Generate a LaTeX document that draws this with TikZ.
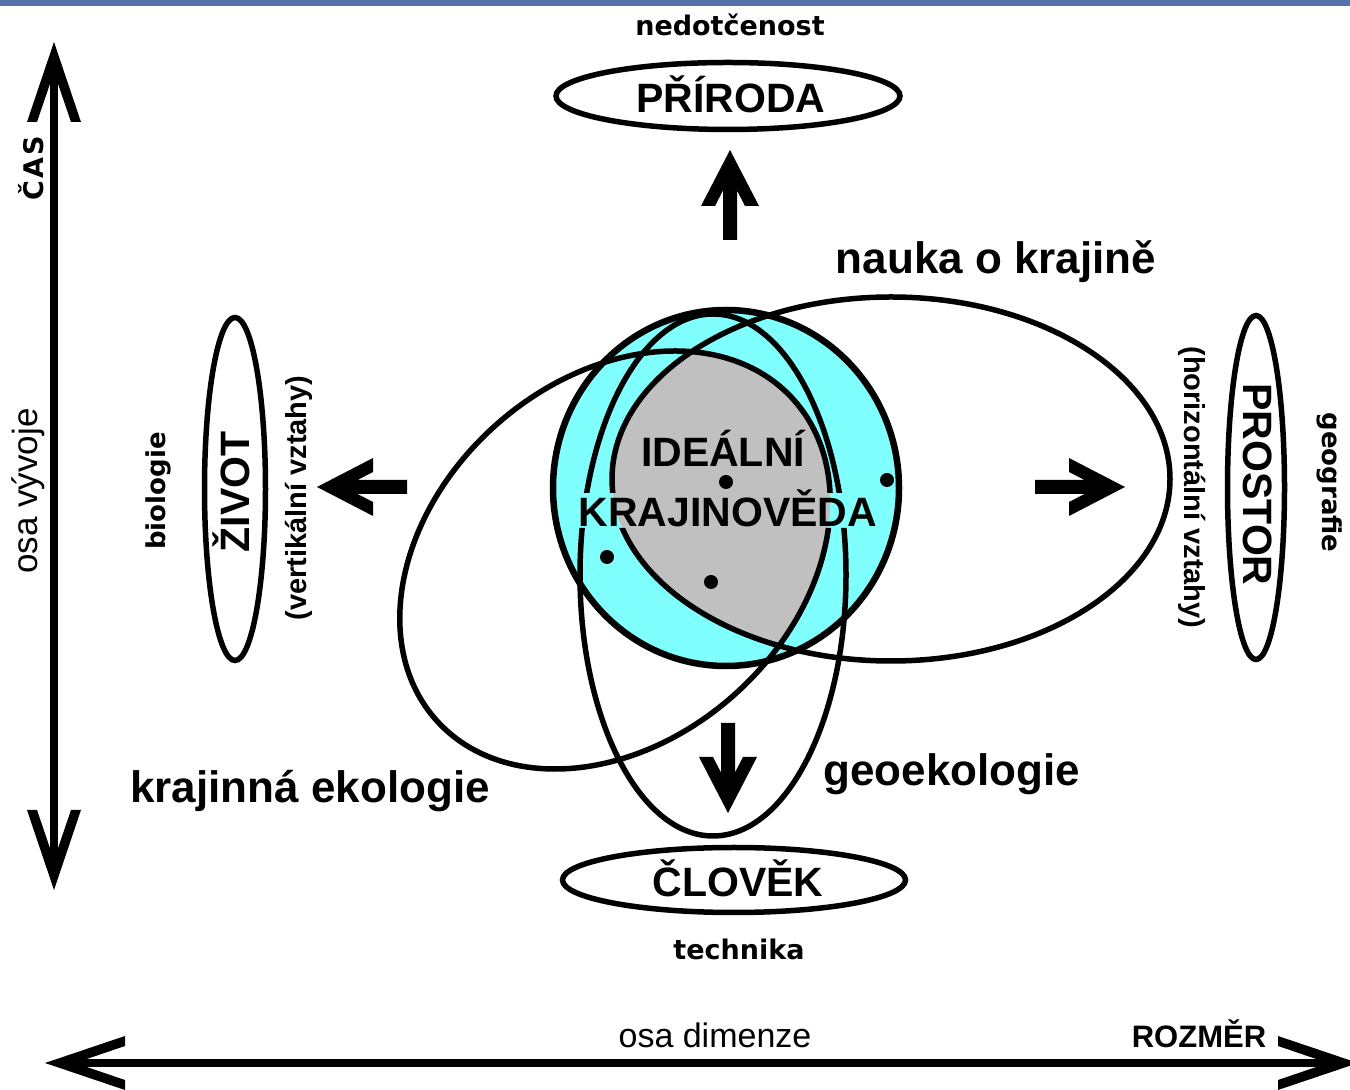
\documentclass[tikz,border=0pt]{standalone}
\usepackage{fontspec}
\setmainfont{Liberation Sans}
\newfontfamily\verd{DejaVu Sans}
\newfontfamily\verdsp[LetterSpace=8]{DejaVu Sans}
\usetikzlibrary{shapes.geometric}
\definecolor{barblue}{RGB}{84,116,168}
\definecolor{cyanfill}{RGB}{128,255,255}
\definecolor{grayfill}{RGB}{192,192,192}
\tikzset{
  oval/.style={draw, line width=5.5pt, ellipse, inner sep=0pt, outer sep=0pt},
  bigtxt/.style={font=\bfseries\fontsize{41}{41}\selectfont, inner sep=0pt, anchor=base},
  midtxt/.style={font=\bfseries\fontsize{44}{44}\selectfont, inner sep=0pt, anchor=base},
  smalltxt/.style={inner sep=0pt, anchor=base},
  setline/.style={line width=5.5pt},
  ringline/.style={line width=6.5pt},
  axisline/.style={line width=8pt},
  dotmark/.style={circle, fill, inner sep=0pt, minimum size=14pt},
  fatarrow/.pic={\fill (0,0) -- (-56,29) -- (-56,15) -- (-40.5,7) -- (-90,7) -- (-90,-7) -- (-40.5,-7) -- (-56,-15) -- (-56,-29) -- cycle;},
  axhead/.pic={\fill (0,0) -- (-80,27) -- (-80,17) -- (-30,0) -- (-80,-17) -- (-80,-27) -- cycle;}
}
\begin{document}
\begin{tikzpicture}[x=1pt,y=1pt]
\useasboundingbox (0,0) rectangle (1350,1090);
\fill[white] (0,0) rectangle (1350,1090);
\fill[barblue] (0,1084) rectangle (1350,1090);

% centres
\coordinate (cc) at (726,602);
\coordinate (nc) at (891,611);
\coordinate (kc) at (615,530);
\coordinate (gc) at (713,515);

% fills
\fill[cyanfill] (cc) ellipse [x radius=173, y radius=178];
\begin{scope}
  \clip (nc) ellipse [x radius=279, y radius=182];
  \begin{scope}[shift={(kc)}, rotate=42]
    \fill[grayfill] (0,0) ellipse [x radius=240, y radius=180];
  \end{scope}
\end{scope}

% outlines (hidden behind the KRAJINOVĚDA text band)
\begin{scope}
  \clip (0,0) -- (0,1090) -- (1350,1090) -- (1350,0) -- cycle
        (575,562) -- (882,562) -- (882,597) -- (575,597) -- cycle;
  \draw[ringline] (cc) ellipse [x radius=173, y radius=178];
  \draw[setline] (nc) ellipse [x radius=279, y radius=182];
  \begin{scope}[shift={(kc)}, rotate=42]
    \draw[setline] (0,0) ellipse [x radius=240, y radius=180];
  \end{scope}
  \draw[setline] (gc) ellipse [x radius=133, y radius=261];
\end{scope}

% dots
\node[dotmark] (d1) at (726,608) {};
\node[dotmark] (d2) at (887,610) {};
\node[dotmark] (d3) at (607,533) {};
\node[dotmark] (d4) at (711,508) {};

% central texts
\node[bigtxt] (ideal) at (723,623) {IDEÁLNÍ};
\node[bigtxt] (kraj) at (728,563) {KRAJINOVĚDA};
\node[midtxt] (nauka) at (996,816) {nauka o krajině};
\node[midtxt] (kek) at (310,287) {krajinná ekologie};
\node[midtxt] (geo) at (952,304) {geoekologie};

% outer ellipses
\node[oval, minimum width=344pt, minimum height=67pt] (prir) at (728,994) {};
\node[bigtxt] (prirT) at (731,977) {PŘÍRODA};
\node[smalltxt, font=\verd\bfseries\fontsize{27}{27}\selectfont] (ned) at (730,1054) {nedotčenost};

\node[oval, minimum width=343pt, minimum height=65pt] (clov) at (734,210) {};
\node[bigtxt] (clovT) at (738,193) {ČLOVĚK};
\node[smalltxt, font=\verd\bfseries\fontsize{27}{27}\selectfont] (tech) at (739,130) {technika};

\node[oval, minimum width=61pt, minimum height=343pt] (zivot) at (235,601) {};
\node[bigtxt, rotate=90] (zivotT) at (249,598) {ŽIVOT};
\node[smalltxt, rotate=90, font=\verd\bfseries\fontsize{26}{26}\selectfont] (bio) at (165,599) {biologie};
\node[smalltxt, rotate=90, font=\bfseries\fontsize{29}{29}\selectfont] (vert) at (306,592) {(vertikální vztahy)};

\node[oval, minimum width=57pt, minimum height=344pt] (prost) at (1256,602.5) {};
\node[bigtxt, rotate=-90] (prostT) at (1243,605.5) {PROSTOR};
\node[smalltxt, rotate=-90, font=\bfseries\fontsize{29}{29}\selectfont] (horiz) at (1184,602.5) {(horizontální vztahy)};
\node[smalltxt, rotate=-90, font=\verd\bfseries\fontsize{26}{26}\selectfont] (geog) at (1322,607.5) {geografie};

% fat arrows
\coordinate (aup) at (730,940);
\coordinate (adown) at (728,277);
\coordinate (aleft) at (317,603);
\coordinate (aright) at (1125,603);
\pic[rotate=90] at (aup) {fatarrow};
\pic[rotate=-90] at (adown) {fatarrow};
\pic[rotate=180] at (aleft) {fatarrow};
\pic at (aright) {fatarrow};

% axes
\coordinate (vtop) at (54,1048);
\coordinate (vbot) at (54,200);
\draw[axisline] ([yshift=-20pt]vtop) -- ([yshift=20pt]vbot);
\pic[rotate=90] at (vtop) {axhead};
\pic[rotate=-90] at (vbot) {axhead};
\node[smalltxt, rotate=90, font=\verdsp\bfseries\fontsize{27}{27}\selectfont] (cas) at (43,922) {ČAS};
\node[smalltxt, rotate=90, font=\fontsize{35}{35}\selectfont] (osav) at (37,599) {osa vývoje};

\coordinate (hl) at (45,27);
\coordinate (hr) at (1358,27);
\draw[axisline] ([xshift=20pt]hl) -- ([xshift=-20pt]hr);
\pic[rotate=180] at (hl) {axhead};
\pic at (hr) {axhead};
\node[smalltxt, font=\fontsize{34}{34}\selectfont] (osad) at (715,42) {osa dimenze};
\node[smalltxt, font=\bfseries\fontsize{31}{31}\selectfont] (rozm) at (1199,42) {ROZMĚR};
\end{tikzpicture}
\end{document}
